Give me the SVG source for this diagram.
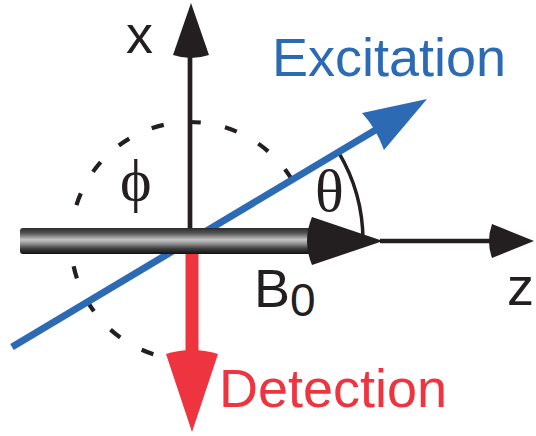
<svg xmlns="http://www.w3.org/2000/svg" width="536" height="436" viewBox="0 0 536 436">
<style>
.ax{stroke:#231f20;stroke-width:4.7;fill:none}
.head{fill:#231f20}
.lbl{font-family:"Liberation Sans",Arial,sans-serif;font-size:54px}
.greek{font-family:"Liberation Serif","Times New Roman",serif;font-size:60px;fill:#231f20}
</style>
<defs>
<linearGradient id="rodg" x1="0" y1="0" x2="0" y2="1">
<stop offset="0" stop-color="#2a2a2a"/>
<stop offset="0.2" stop-color="#555"/>
<stop offset="0.45" stop-color="#c4c4c4"/>
<stop offset="0.58" stop-color="#9a9a9a"/>
<stop offset="0.8" stop-color="#3c3c3c"/>
<stop offset="1" stop-color="#111"/>
</linearGradient>
</defs>
<rect width="536" height="436" fill="#fff"/>
<g id="angles">
<path d="M291.9,179.7 A119,119 0 1 0 157.2,355.4" stroke="#231f20" stroke-width="4.2" fill="none" stroke-dasharray="12.5 24.7"/>
<path d="M338.3,151.9 A173,173 0 0 1 363,241" stroke="#231f20" stroke-width="3.5" fill="none"/>
</g>
<g id="connectors">
<g id="x-axis">
<line class="ax" x1="190" y1="230" x2="190" y2="52"/>
<path class="head" d="M191,3 L173,55 Q191,61 209,55 Z"/>
</g>
<g id="z-axis">
<line class="ax" x1="380" y1="241" x2="494" y2="241"/>
<path class="head" d="M534,241 L492,224 Q486,241 492,258 Z"/>
</g>
<g id="excitation-arrow">
<line x1="12" y1="347" x2="378" y2="128.5" stroke="#2c6bb4" stroke-width="7"/>
<path d="M427,99 L362,113 Q376,128 384,150 Z" fill="#2c6bb4"/>
</g>
<g id="b0-rod">
<rect x="20" y="228" width="296" height="26" rx="3" fill="url(#rodg)"/>
<path class="head" d="M383,241 L312,217 Q302,241 312,265 Z"/>
</g>
<g id="detection-arrow">
<rect x="185.5" y="254" width="13" height="103" fill="#ee343f"/>
<path d="M192,432 L166,354 Q192,346 218,354 Z" fill="#ee343f"/>
</g>
</g>
<g id="label-x"><text class="lbl" x="126" y="53" fill="#231f20">x</text></g>
<g id="label-z"><text class="lbl" x="507" y="305" fill="#231f20">z</text></g>
<g id="label-excitation"><text class="lbl" x="272" y="76" fill="#2c6bb4">Excitation</text></g>
<g id="label-detection"><text class="lbl" x="219" y="407" fill="#ee343f">Detection</text></g>
<g id="label-b0"><text class="lbl" x="254" y="307" fill="#231f20">B<tspan font-size="46" dy="9">0</tspan></text></g>
<g id="label-phi"><text class="greek" x="120" y="200">ϕ</text></g>
<g id="label-theta"><text class="greek" x="315" y="211">θ</text></g>
</svg>
